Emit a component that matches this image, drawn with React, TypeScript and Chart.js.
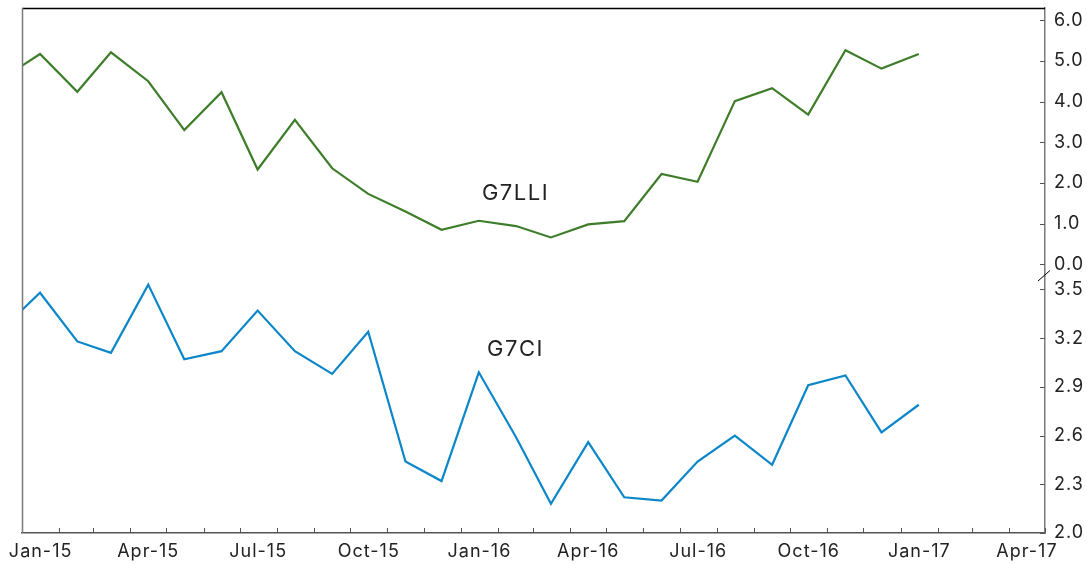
import React, { useEffect, useRef } from "react";
import { Chart, registerables } from "chart.js";

Chart.register(...registerables);

// ---------- data ----------
const months: string[] = [
  "Dec-14", "Jan-15", "Feb-15", "Mar-15", "Apr-15", "May-15", "Jun-15", "Jul-15", "Aug-15",
  "Sep-15", "Oct-15", "Nov-15", "Dec-15", "Jan-16", "Feb-16", "Mar-16", "Apr-16", "May-16",
  "Jun-16", "Jul-16", "Aug-16", "Sep-16", "Oct-16", "Nov-16", "Dec-16", "Jan-17",
];

const g7lli: number[] = [
  4.57, 5.17, 4.24, 5.21, 4.5, 3.3, 4.23, 2.33, 3.55, 2.36, 1.73, 1.3, 0.85,
  1.07, 0.94, 0.66, 0.98, 1.06, 2.22, 2.03, 4.01, 4.33, 3.68, 5.26, 4.81, 5.17,
];

const g7ci: number[] = [
  3.26, 3.48, 3.18, 3.11, 3.53, 3.07, 3.12, 3.37, 3.12, 2.98, 3.24, 2.44, 2.32,
  2.99, 2.59, 2.18, 2.56, 2.22, 2.2, 2.44, 2.6, 2.42, 2.91, 2.97, 2.62, 2.79,
];

const xTickLabels: string[] = [
  "Jan-15", "Apr-15", "Jul-15", "Oct-15", "Jan-16", "Apr-16", "Jul-16", "Oct-16", "Jan-17", "Apr-17",
];

const topTicks: number[] = [0, 1, 2, 3, 4, 5, 6];
const bottomTicks: number[] = [2.0, 2.3, 2.6, 2.9, 3.2, 3.5];

const seriesLabels = [
  { text: "G7LLI", month: "Feb-16", axis: "yTop", value: 1.58 },
  { text: "G7CI", month: "Feb-16", axis: "yBot", value: 3.09 },
];

// axis extents
const xStart = "Jan-15";
const xEnd = "May-17"; // axis ends at the start of May 2017
const topRange = [-0.3, 6.3];
const bottomRange = [2.0, 3.58];

// ---------- helpers ----------
const MONTHS = ["Jan", "Feb", "Mar", "Apr", "May", "Jun", "Jul", "Aug", "Sep", "Oct", "Nov", "Dec"];
const DAY = 86400000;
function parseMonth(lbl: string): [number, number] {
  const [m, y] = lbl.split("-");
  return [2000 + parseInt(y, 10), MONTHS.indexOf(m)];
}
const origin = Date.UTC(2015, 0, 1);
function dayOf(y: number, m: number, d: number) {
  return (Date.UTC(y, m, d) - origin) / DAY;
}
function monthStart(lbl: string) {
  const [y, m] = parseMonth(lbl);
  return dayOf(y, m, 1);
}
function monthMid(lbl: string) {
  const [y, m] = parseMonth(lbl);
  return (dayOf(y, m, 1) + dayOf(y, m + 1, 1)) / 2;
}
function monthPoint(lbl: string) {
  const [y, m] = parseMonth(lbl);
  return dayOf(y, m, 16);
}

const FONT = "Inter";
const TEXT = "#222222";
const AXIS = "#7a7a7a";
const SPACING = "1px";

const spacingPlugin = {
  id: "spacing",
  beforeUpdate(chart: any) {
    chart.ctx.letterSpacing = SPACING;
  },
  beforeDraw(chart: any) {
    chart.ctx.letterSpacing = SPACING;
  },
};

const framePlugin = {
  id: "frame",
  afterDraw(chart: any) {
    const { ctx, chartArea: a, scales } = chart;
    ctx.save();
    // top border
    ctx.strokeStyle = "#000000";
    ctx.lineWidth = 1.3;
    ctx.beginPath();
    ctx.moveTo(a.left, a.top + 0.5);
    ctx.lineTo(a.right, a.top + 0.5);
    ctx.stroke();
    // left border
    ctx.strokeStyle = AXIS;
    ctx.lineWidth = 1.5;
    ctx.beginPath();
    ctx.moveTo(a.left + 0.5, a.top);
    ctx.lineTo(a.left + 0.5, a.bottom);
    ctx.stroke();
    // x month ticks (inside)
    const xs = scales.x;
    ctx.lineWidth = 1;
    ctx.strokeStyle = "#555555";
    const [y0, m0] = parseMonth(xStart);
    for (let i = 1; ; i++) {
      const d = dayOf(y0, m0 + i, 1);
      if (d > xs.max) break;
      const px = Math.round(xs.getPixelForValue(d)) + 0.5;
      ctx.beginPath();
      ctx.moveTo(px, a.bottom);
      ctx.lineTo(px, a.bottom - 5);
      ctx.stroke();
    }
    // y ticks (inside)
    for (const id of ["yTop", "yBot"]) {
      const s = scales[id];
      for (const t of s.ticks) {
        const py = Math.round(s.getPixelForValue(t.value)) + 0.5;
        ctx.beginPath();
        ctx.moveTo(a.right - 5, py);
        ctx.lineTo(a.right, py);
        ctx.stroke();
      }
    }
    // axis break mark
    const yb = scales.yBot.top;
    ctx.strokeStyle = "#000000";
    ctx.lineWidth = 1;
    ctx.beginPath();
    ctx.moveTo(a.right - 7, yb + 4.5);
    ctx.lineTo(a.right + 5, yb - 6);
    ctx.stroke();
    // series labels
    ctx.fillStyle = TEXT;
    ctx.font = `22px ${FONT}`;
    ctx.letterSpacing = "1.5px";
    ctx.textAlign = "center";
    ctx.textBaseline = "alphabetic";
    for (const l of seriesLabels) {
      const px = xs.getPixelForValue(monthMid(l.month));
      const py = scales[l.axis].getPixelForValue(l.value);
      ctx.fillText(l.text, px, py);
    }
    ctx.restore();
  },
};

const noPad = (s: any) => {
  s.paddingTop = 0;
  s.paddingBottom = 0;
  s.paddingLeft = 0;
  s.paddingRight = 0;
};

export default function App() {
  const ref = useRef<HTMLCanvasElement | null>(null);
  useEffect(() => {
    if (!ref.current) return;
    const xs = months.map(monthPoint);
    const yTickOpts = {
      autoSkip: false,
      padding: 9,
      color: TEXT,
      font: { family: FONT, size: 18 },
      callback: (v: any) => Number(v).toFixed(1),
    };
    const chart = new Chart(ref.current, {
      type: "line",
      data: {
        datasets: [
          {
            label: "G7LLI",
            data: g7lli.map((v, i) => ({ x: xs[i], y: v })),
            yAxisID: "yTop",
            borderColor: "#3e7d2a",
            borderWidth: 2.2,
            pointRadius: 0,
            tension: 0,
            clip: 0,
          },
          {
            label: "G7CI",
            data: g7ci.map((v, i) => ({ x: xs[i], y: v })),
            yAxisID: "yBot",
            borderColor: "#0a86c9",
            borderWidth: 2.2,
            pointRadius: 0,
            tension: 0,
            clip: 0,
          },
        ],
      },
      options: {
        animation: false,
        responsive: true,
        maintainAspectRatio: false,
        layout: { padding: { left: 22, top: 8, right: 0, bottom: 0 } },
        plugins: { legend: { display: false }, tooltip: { enabled: false } },
        scales: {
          x: {
            type: "linear",
            min: monthStart(xStart),
            max: monthStart(xEnd),
            grid: { display: false, drawTicks: false },
            border: { display: true, color: "#555555", width: 1.5 },
            afterBuildTicks: (s: any) => {
              s.ticks = xTickLabels.map((l) => ({ value: monthMid(l) }));
            },
            afterFit: (s: any) => {
              s.height = 31;
              noPad(s);
            },
            ticks: {
              autoSkip: false,
              maxRotation: 0,
              padding: 8,
              color: TEXT,
              font: { family: FONT, size: 18 },
              callback: (_v: any, i: number) => xTickLabels[i],
            },
          },
          yTop: {
            type: "linear",
            position: "right",
            stack: "y",
            stackWeight: 268.5,
            min: topRange[0],
            max: topRange[1],
            grid: { display: false, drawTicks: false },
            border: { display: true, color: AXIS, width: 1.5 },
            afterBuildTicks: (s: any) => {
              s.ticks = topTicks.map((v) => ({ value: v }));
            },
            afterFit: (s: any) => {
              s.width = 42;
              noPad(s);
            },
            ticks: yTickOpts,
          },
          yBot: {
            type: "linear",
            position: "right",
            stack: "y",
            stackWeight: 256.5,
            min: bottomRange[0],
            max: bottomRange[1],
            grid: { display: false, drawTicks: false },
            border: { display: true, color: AXIS, width: 1.5 },
            afterBuildTicks: (s: any) => {
              s.ticks = bottomTicks.map((v) => ({ value: v }));
            },
            afterFit: (s: any) => {
              s.width = 42;
              noPad(s);
            },
            ticks: yTickOpts,
          },
        },
      } as any,
      plugins: [spacingPlugin, framePlugin],
    });
    return () => chart.destroy();
  }, []);
  return (
    <div style={{ position: "fixed", left: 0, top: 0, width: 1087, height: 564, background: "#fff" }}>
      <canvas ref={ref} />
    </div>
  );
}
